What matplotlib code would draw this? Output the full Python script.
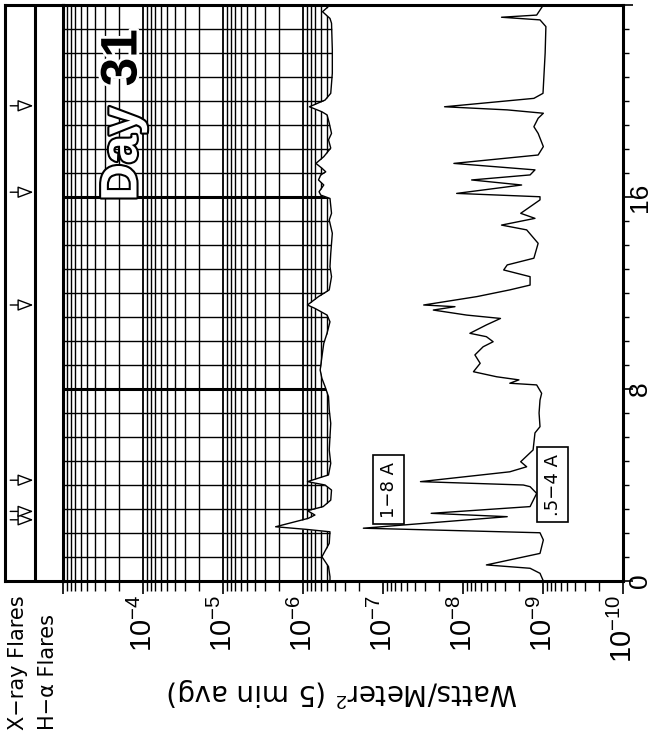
import matplotlib
matplotlib.use('Agg')
import matplotlib.pyplot as plt
import matplotlib.patheffects as pe
import matplotlib.transforms as mtransforms
from matplotlib.ticker import FixedLocator, LogLocator, NullFormatter

plt.rcParams['mathtext.fontset'] = 'custom'
plt.rcParams['mathtext.rm'] = 'Liberation Sans'
plt.rcParams['mathtext.it'] = 'Liberation Sans:italic'
plt.rcParams['mathtext.bf'] = 'Liberation Sans:bold'

# GOES X-ray flux, day 31 (hours UT, Watts/m^2, 5 min avg)
long_t = [0.0, 0.18, 0.6, 1.01, 1.57, 2.05, 2.15, 2.26, 2.61, 2.75, 2.93, 3.1, 3.37,
          3.79, 4.0, 4.14, 4.42, 4.9, 5.46, 6.01, 6.57, 7.13, 7.68, 8.1, 8.44, 8.79,
          9.35, 9.9, 10.33, 10.8, 11.08, 11.36, 11.5, 11.85, 12.13, 12.68, 13.1, 13.65,
          14.49, 15.04, 15.32, 15.94, 16.08, 16.22, 16.5, 16.71, 16.92, 17.05, 17.2,
          17.4, 17.68, 18.04, 18.38, 18.65, 19.08, 19.42, 19.55, 19.76, 20.04, 20.32,
          21.16, 22.13, 23.24, 23.44, 23.72, 24.0]
long_flux = [4.6e-7, 4.6e-7, 4.8e-7, 5.8e-7, 4.7e-7, 4.6e-7, 9.0e-7, 2.2e-6, 8.6e-7,
             7.1e-7, 8.8e-7, 5.6e-7, 4.5e-7, 4.4e-7, 5.3e-7, 8.8e-7, 4.8e-7, 4.5e-7,
             4.7e-7, 4.6e-7, 4.5e-7, 4.7e-7, 4.8e-7, 5.3e-7, 5.8e-7, 6.1e-7, 5.8e-7,
             5.5e-7, 5.0e-7, 4.6e-7, 5.0e-7, 7.1e-7, 8.8e-7, 6.4e-7, 4.7e-7, 4.4e-7,
             4.6e-7, 4.5e-7, 4.3e-7, 4.7e-7, 4.4e-7, 4.6e-7, 6.0e-7, 6.3e-7, 5.5e-7,
             6.4e-7, 6.0e-7, 5.2e-7, 5.8e-7, 6.9e-7, 5.5e-7, 4.5e-7, 4.8e-7, 4.4e-7,
             4.7e-7, 5.0e-7, 5.8e-7, 8.3e-7, 5.3e-7, 4.5e-7, 4.3e-7, 4.3e-7, 4.4e-7,
             4.6e-7, 5.7e-7, 4.6e-7]

short_t = [0.0, 0.32, 0.53, 0.67, 1.15, 1.71, 2.01, 2.2, 2.68, 2.82, 3.1, 3.65, 3.93,
           4.0, 4.14, 4.55, 4.76, 4.97, 5.46, 6.17, 6.43, 7.0, 7.54, 7.82, 8.17, 8.24,
           8.38, 8.51, 8.72, 9.07, 9.42, 9.76, 9.97, 10.18, 10.32, 10.67, 10.94, 11.08,
           11.29, 11.43, 11.5, 11.85, 12.13, 12.33, 12.68, 12.96, 13.17, 13.45, 14.07,
           14.63, 14.83, 15.11, 15.32, 15.88, 16.01, 16.15, 16.5, 16.71, 16.92, 17.13,
           17.4, 17.75, 18.1, 18.65, 18.93, 19.28, 19.49, 19.63, 19.76, 20.11, 20.32,
           22.0, 23.1, 23.38, 23.49, 23.58, 24.0]
short_flux = [9.9e-10, 1.09e-9, 1.45e-9, 5.1e-9, 1.09e-9, 9.9e-10, 1.09e-9, 1.76e-7,
              2.8e-9, 2.5e-8, 1.45e-9, 1.2e-9, 1.45e-9, 1.76e-9, 3.4e-8, 2.6e-9, 1.6e-9,
              1.9e-9, 1.33e-9, 1.26e-9, 1.09e-9, 1.12e-9, 1.09e-9, 1.04e-9, 1.2e-9,
              2.6e-9, 2.0e-9, 3.8e-9, 7.4e-9, 6.1e-9, 7.1e-9, 5.6e-9, 4.2e-9, 5.1e-9,
              8.2e-9, 5.1e-9, 3.4e-9, 9.0e-9, 2.35e-8, 1.26e-8, 3.1e-8, 6.7e-9, 2.6e-9,
              1.45e-9, 1.45e-9, 3.1e-9, 2.8e-9, 1.3e-9, 1.15e-9, 1.6e-9, 3.3e-9, 1.26e-9,
              1.9e-9, 1.09e-9, 1.09e-9, 1.2e-8, 1.85e-9, 7.8e-9, 1.45e-9, 1.26e-9,
              1.3e-8, 1.15e-9, 9.9e-10, 1.15e-9, 1.3e-9, 1.15e-9, 9.9e-10, 2.8e-9,
              1.7e-8, 1.3e-9, 1.0e-9, 9.4e-10, 9.2e-10, 1.09e-9, 3.3e-9, 1.2e-9, 9.9e-10]

xray_flares = [2.55, 2.9, 4.2, 11.5, 16.2, 19.8]

flux_ticks = [1e-10, 1e-9, 1e-8, 1e-7, 1e-6, 1e-5, 1e-4, 1e-3]
flux_labels = [r'$10^{-10}$', r'$10^{-9}$', r'$10^{-8}$', r'$10^{-7}$',
               r'$10^{-6}$', r'$10^{-5}$', r'$10^{-4}$', '']
hour_ticks = [0, 8, 16, 24]
hour_labels = ['0', '8', '16', '']

W, H = 653, 740
fig = plt.figure(figsize=(W / 100, H / 100), dpi=100)


def rect(x0, y0, x1, y1):
    return [x0 / W, 1 - y1 / H, (x1 - x0) / W, (y1 - y0) / H]


ax = fig.add_axes(rect(63, 5, 623, 581))
ax.set_xscale('log')
ax.set_xlim(1e-3, 1e-10)
ax.set_ylim(0, 24)

# chart-paper grid, erased below the 1-8 A trace
for dec in range(-10, -3):
    for m in range(1, 10):
        ax.axvline(m * 10.0 ** dec, color='black', lw=1.3 if m == 1 else 1.0, zorder=1)
for h in range(1, 24):
    ax.axhline(h, color='black', lw=2.2 if h % 8 == 0 else 1.0, zorder=1)
ax.fill_betweenx(long_t, long_flux, 1e-10, color='white', lw=0, zorder=2)

ax.plot(long_flux, long_t, color='black', lw=1.0, zorder=3)
ax.plot(short_flux, short_t, color='black', lw=1.0, zorder=3)

for s in ax.spines.values():
    s.set_linewidth(2.2)
    s.set_zorder(4)

ax.xaxis.set_major_locator(FixedLocator(flux_ticks))
ax.set_xticklabels(flux_labels)
ax.xaxis.set_minor_locator(LogLocator(base=10, subs=range(2, 10), numticks=20))
ax.xaxis.set_minor_formatter(NullFormatter())
ax.tick_params(axis='x', which='major', direction='out', length=9, width=1.2,
               labelsize=21, labelrotation=90, pad=1)
ax.tick_params(axis='x', which='minor', direction='out', length=7, width=1.0)

ax.yaxis.tick_right()
ax.set_yticks(hour_ticks)
ax.set_yticklabels([])
ax.set_yticks(range(25), minor=True)
ax.tick_params(axis='y', which='major', direction='out', length=7, width=1.2)
ax.tick_params(axis='y', which='minor', direction='out', length=4, width=1.0)
# hour labels, anchored on their baseline so they stay inside the figure
trans = mtransforms.blended_transform_factory(fig.transFigure, ax.transData)
for t, lab in zip(hour_ticks, hour_labels):
    if lab:
        ax.text(647 / W, t, lab, transform=trans, rotation=90, rotation_mode='anchor',
                ha='center', va='baseline', fontsize=19, family='Liberation Sans',
                clip_on=False)

box = dict(boxstyle='square,pad=0.35', fc='white', ec='black', lw=1.2)
ax.text(10 ** -7.07, 3.81, '1−8 A', rotation=90, ha='center', va='center',
        fontsize=13, bbox=box, zorder=5)
ax.text(10 ** -9.12, 4.02, '.5−4 A', rotation=90, ha='center', va='center',
        fontsize=13, bbox=box, zorder=5)

ax.text(10 ** -3.75, 17.8, 'Day', rotation=90, ha='center', va='center',
        fontsize=37, fontweight='bold', family='Liberation Sans', color='white',
        zorder=5, path_effects=[pe.Stroke(linewidth=3, foreground='black'), pe.Normal()])
ax.text(10 ** -3.75, 21.8, '31', rotation=90, ha='center', va='center',
        fontsize=37, fontweight='bold', family='Liberation Sans', color='black',
        zorder=5, path_effects=[pe.Stroke(linewidth=4, foreground='white'), pe.Normal()])

# flare indicator strips
ax2 = fig.add_axes(rect(5, 5, 63, 581))
ax2.set_xlim(0, 1)
ax2.set_ylim(0, 24)
ax2.set_xticks([])
ax2.set_yticks([])
for s in ax2.spines.values():
    s.set_linewidth(2.2)
ax2.axvline(30 / 58, color='black', lw=2.2)
for t in xray_flares:
    ax2.annotate('', xy=(0.49, t), xytext=(0.09, t),
                 arrowprops=dict(arrowstyle='-|>,head_length=0.8,head_width=0.3',
                                 fc='white', ec='black', lw=1.0, mutation_scale=12,
                                 shrinkA=0, shrinkB=0))

fig.text(18 / W, 1 - 730 / H, 'X−ray Flares', rotation=90, ha='center', va='bottom',
         fontsize=15)
fig.text(48 / W, 1 - 730 / H, 'H−α Flares', rotation=90, ha='center', va='bottom',
         fontsize=15)
fig.text(343 / W, 1 - 692 / H, r'Watts/Meter$^2$ (5 min avg)', rotation=180,
         ha='center', va='center', fontsize=20, family='DejaVu Sans')

fig.savefig('out.png', dpi=100)
